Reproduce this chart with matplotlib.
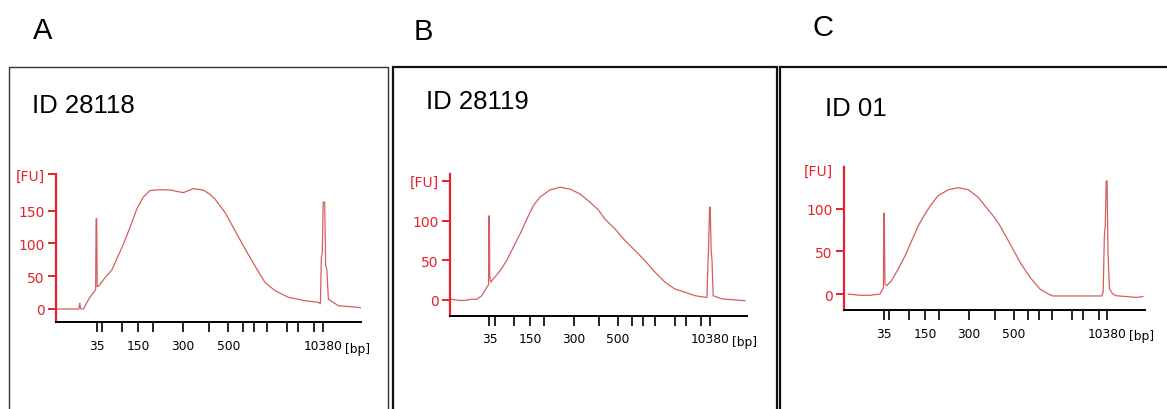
import matplotlib
matplotlib.use("Agg")
import matplotlib.pyplot as plt
from matplotlib.patches import Rectangle

# ---------------- data ----------------
panel_letters = ["A", "B", "C"]
sample_ids = ["ID 28118", "ID 28119", "ID 01"]

# ladder sizes [bp] and their migration positions (0-100 scale of the x axis)
ladder_sizes = [35, 50, 100, 150, 200, 300, 400, 500, 600, 700, 1000, 2000, 3000, 7000, 10380]
ladder_time = [13.3, 15.2, 21.7, 27.0, 31.7, 41.7, 50.1, 56.5, 61.2, 65.0, 69.1, 75.9, 79.4, 84.7, 87.6]
ladder_labels = ["35", "", "", "150", "", "300", "", "500", "", "", "", "", "", "", "10380"]

# Panel A trace: migration position vs fluorescence [FU]
a_time = [0.2, 6.2, 7.5, 7.8, 8.0, 8.3, 9.0, 11.1, 12.8, 13.0, 13.15, 13.35, 13.5, 14.2, 16.1,
          18.3, 19.9, 22.1, 24.3, 26.5, 28.6, 30.8, 34.1, 37.4, 41.7, 45.0, 48.3, 50.5, 52.1,
          55.4, 58.7, 62.0, 65.2, 68.5, 71.8, 76.2, 81.6, 86.0, 86.7, 87.0, 87.3, 87.6, 88.1,
          88.4, 88.8, 89.3, 92.6, 99.1, 100.0]
a_fu = [0, 0, 0, 9, 2, 0, 0, 18, 28, 30, 138, 138, 34, 36, 48,
        59.5, 76, 99, 125, 152.6, 170.6, 180.8, 182, 181.6, 177.5, 183.6, 181.6, 175, 167.8,
        147.5, 119.5, 91.6, 66, 40.7, 28, 17.8, 12.7, 10.2, 8, 79, 85, 163, 163,
        68, 60, 15, 5, 2.5, 2]

# Panel B trace
b_time = [0.6, 3.0, 5.1, 7.0, 9.0, 10.7, 12.4, 13.0, 13.1, 13.25, 13.4, 13.7, 16.9, 19.1, 21.3,
          23.6, 25.9, 28.1, 30.3, 33.7, 37.1, 40.4, 43.8, 47.2, 50.0, 52.2, 55.6, 59.0, 62.4,
          65.7, 69.1, 72.5, 75.8, 79.2, 82.6, 86.0, 86.6, 86.9, 87.1, 87.5, 87.7, 88.0, 88.3,
          88.7, 91.6, 99.4]
b_fu = [0.5, -1, -1, 0.5, 0.5, 5, 15.7, 19, 106, 106, 30, 22, 36.7, 49.4, 66,
        83, 102, 119, 129.6, 138.9, 142.3, 140, 133.8, 123.3, 113.5, 102, 89.5, 74.7, 62,
        49.4, 34.7, 22, 13.5, 9.4, 5, 3, 3, 41, 60, 117, 117, 64, 50,
        5, 1, -1.3]

# Panel C trace
c_time = [1.5, 5.4, 8.7, 12.1, 12.6, 13.2, 13.3, 13.5, 13.7, 14.3, 15.9, 18.1, 20.4, 22.6,
          24.8, 27.0, 29.2, 31.4, 34.8, 38.1, 41.4, 44.7, 48.0, 50.3, 51.9, 55.3, 58.6, 61.9,
          65.2, 68.0, 69.5, 85.7, 86.2, 86.6, 86.9, 87.2, 87.5, 87.8, 88.3, 89.4, 90.5, 97.2,
          99.4]
c_fu = [0, -1.5, -1.5, 0, 4, 7, 95, 95, 12, 9.8, 15.7, 29.4, 45, 62.7,
        80.4, 94, 105.9, 115.7, 122.7, 125, 122.7, 113.7, 99, 89, 80.4, 58.8, 37.3, 19.6,
        5.9, 0, -2.3, -2.3, 2, 68.6, 80, 133, 133, 49, 6, 0, -2, -4,
        -3]

traces_time = [a_time, b_time, c_time]
traces_fu = [a_fu, b_fu, c_fu]

y_ticks = [[0, 50, 100, 150, 206], [0, 50, 100, 150.6], [0, 50, 100, 147]]
y_labels = [["0", "50", "100", "150", "[FU]"], ["0", "50", "100", "[FU]"], ["0", "50", "100", "[FU]"]]
y_limits = [(-20.3, 206), (-20.3, 159), (-18.8, 149)]

# ---------------- layout ----------------
W, H = 1167, 410
fig = plt.figure(figsize=(W / 100, H / 100), dpi=100)
fig.patch.set_facecolor("white")

def fx(px):
    return px / W

def fy(py):
    return 1 - py / H

# panel frames (x0, x1, top, linewidth, colour)
frames = [(9, 388, 68, 1.0, "#333333"), (393, 777, 68, 1.6, "#111111"), (780, 1170, 68, 1.6, "#111111")]
for x0, x1, top, lw, col in frames:
    fig.patches.append(Rectangle((fx(x0), fy(H + 20)), fx(x1) - fx(x0), fy(top) - fy(H + 20),
                                 transform=fig.transFigure, fill=False, lw=lw, edgecolor=col,
                                 clip_on=False))

# baseline positions in pixels
letter_pos = [(33, 39.3), (414, 39.5), (813, 36.5)]
id_pos = [(31.5, 113.3), (426.5, 108.8), (825, 115.7)]
for (lx, ly), letter in zip(letter_pos, panel_letters):
    fig.text(fx(lx), fy(ly), letter, fontsize=21, family="Liberation Sans", ha="left", va="baseline")
for (ix, iy), sid in zip(id_pos, sample_ids):
    fig.text(fx(ix), fy(iy), sid, fontsize=18.5, family="Liberation Sans", ha="left", va="baseline")

# axes boxes in pixels: left, right, bottom (x axis line), top
axes_px = [(56, 361, 323.3, 175), (450, 746.7, 316.7, 175), (843.7, 1144.7, 311, 168.3)]

red = "#E5222B"
trace_col = "#D45F5F"

for i in range(3):
    l, r, b, t = axes_px[i]
    ax = fig.add_axes([fx(l), fy(b), fx(r) - fx(l), fy(t) - fy(b)])
    ax.set_facecolor("none")
    ax.plot(traces_time[i], traces_fu[i], color=trace_col, lw=0.9)
    ax.set_xlim(0, 100)
    ax.set_ylim(*y_limits[i])
    for s in ["top", "right"]:
        ax.spines[s].set_visible(False)
    ax.spines["left"].set_color(red)
    ax.spines["left"].set_linewidth(1.6)
    ax.spines["bottom"].set_color("black")
    ax.spines["bottom"].set_linewidth(1.4)
    ax.set_yticks(y_ticks[i])
    ax.set_yticklabels(y_labels[i], color=red, fontsize=10, family="DejaVu Sans")
    ax.tick_params(axis="y", colors=red, length=6, width=1.4, pad=2)
    ax.set_xticks(ladder_time)
    ax.set_xticklabels(ladder_labels, fontsize=8.8, family="DejaVu Sans")
    ax.tick_params(axis="x", length=7.5, width=1.2, pad=4.5, colors="black")
    if i == 2:
        ax.yaxis.get_major_ticks()[-1].tick1line.set_visible(False)
    ax.annotate("[bp]", xy=(ladder_time[-1], 0), xycoords=("data", "axes fraction"),
                xytext=(22, -26), textcoords="offset pixels", ha="left", va="center",
                fontsize=8.8, family="DejaVu Sans")

fig.savefig("out.png", dpi=100, facecolor="white")
